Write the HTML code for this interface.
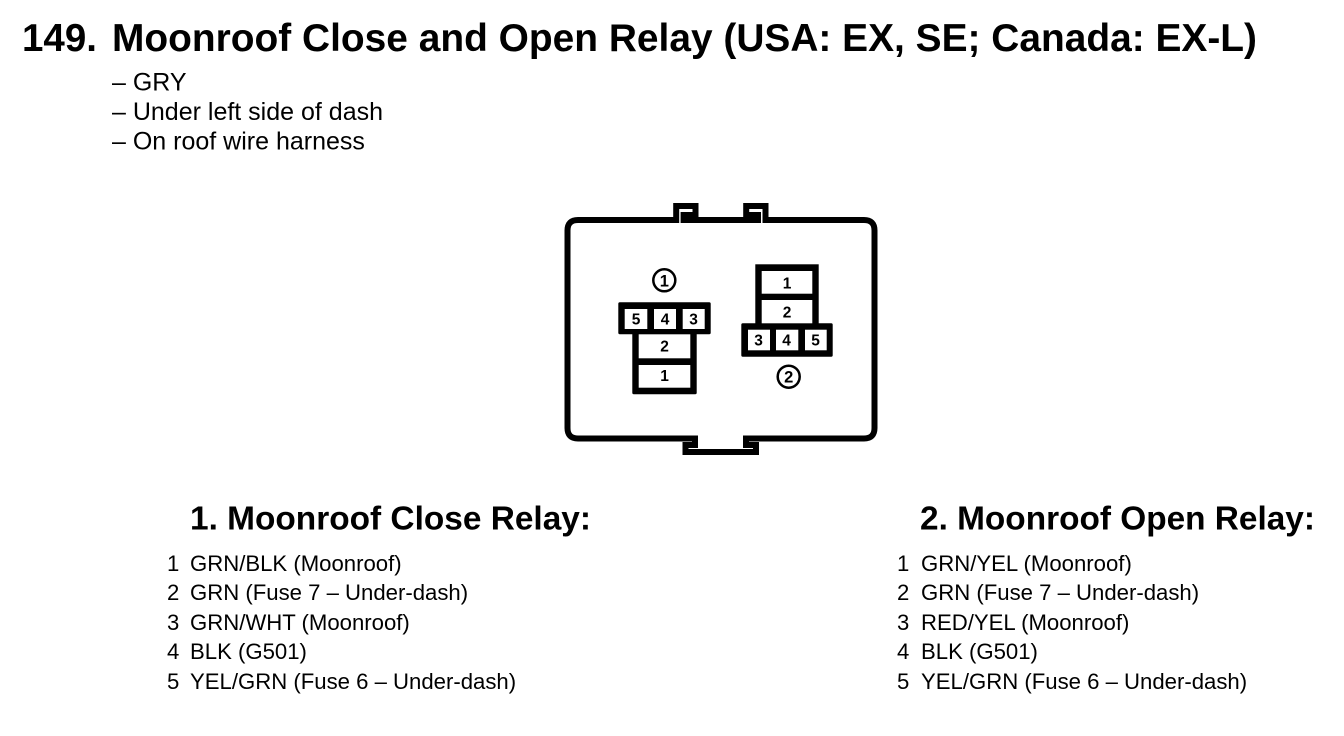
<!DOCTYPE html>
<html><head><meta charset="utf-8"><style>
html,body{margin:0;padding:0;background:#fff}
svg{display:block}
text{font-family:"Liberation Sans",Arial,sans-serif;fill:#000}
.t{font-weight:bold;font-size:38.500px}
.h{font-weight:bold;font-size:33.400px}
.l{font-size:25px}
.b{font-size:22.150px}
.n{font-weight:bold;font-size:15.500px;text-anchor:middle}
</style></head><body>
<svg width="1344" height="736" viewBox="0 0 1344 736" xmlns="http://www.w3.org/2000/svg">
<rect width="1344" height="736" fill="#fff"/>
<text class="t" x="22" y="51">149.</text>
<text class="t" x="112" y="51" textLength="1145" lengthAdjust="spacingAndGlyphs">Moonroof Close and Open Relay (USA: EX, SE; Canada: EX-L)</text>
<text class="l" x="112" y="90.500">– GRY</text>
<text class="l" x="112" y="120">– Under left side of dash</text>
<text class="l" x="112" y="149.500">– On roof wire harness</text>

<path d="M676.200 220V206H695.500V215H683.600V220H758V215H746.200V206H765.500V220H864Q874.500 220 874.500 230.500V428Q874.500 438.500 864 438.500H746V445H756V452H685.500V445H695V438.500H578Q567.500 438.500 567.500 428V230.500Q567.500 220 578 220Z" fill="none" stroke="#000" stroke-width="6" stroke-linejoin="miter"/>

<circle cx="664.300" cy="280.300" r="11" fill="none" stroke="#000" stroke-width="2.500"/>
<text class="n" x="664.300" y="286.300" style="font-size:16.500px">1</text>
<rect x="618.300" y="302.300" width="92.400" height="32" rx="1.500" fill="#000"/>
<rect x="632.300" y="330" width="64.400" height="64.300" rx="1.500" fill="#000"/>
<rect x="624.700" y="309" width="22.600" height="20" fill="#fff"/>
<rect x="654" y="309" width="22" height="20" fill="#fff"/>
<rect x="682.700" y="309" width="22" height="20" fill="#fff"/>
<rect x="638.700" y="334.300" width="51.600" height="24" fill="#fff"/>
<rect x="638.700" y="365" width="51.600" height="22.700" fill="#fff"/>
<text class="n" x="636" y="324.500">5</text>
<text class="n" x="665" y="324.500">4</text>
<text class="n" x="693.500" y="324.500">3</text>
<text class="n" x="664.500" y="351.500">2</text>
<text class="n" x="664.500" y="381">1</text>

<rect x="755.300" y="264.300" width="63.400" height="62" fill="#000"/>
<rect x="741.300" y="323.300" width="91.400" height="33.400" rx="1.500" fill="#000"/>
<rect x="761.700" y="271" width="50.600" height="22.700" fill="#fff"/>
<rect x="761.700" y="300" width="50.600" height="23.300" fill="#fff"/>
<rect x="748" y="329.700" width="22" height="20.600" fill="#fff"/>
<rect x="776" y="329.700" width="22.300" height="20.600" fill="#fff"/>
<rect x="805" y="329.700" width="21.700" height="20.600" fill="#fff"/>
<text class="n" x="787" y="288.500">1</text>
<text class="n" x="787" y="317.500">2</text>
<text class="n" x="758.500" y="345.500">3</text>
<text class="n" x="786.500" y="345.500">4</text>
<text class="n" x="815.500" y="345.500">5</text>
<circle cx="788.700" cy="376.700" r="11" fill="none" stroke="#000" stroke-width="2.500"/>
<text class="n" x="788.700" y="382.700" style="font-size:16.500px">2</text>

<text class="h" x="190" y="529.500" textLength="401" lengthAdjust="spacingAndGlyphs">1. Moonroof Close Relay:</text>
<text class="b" x="167" y="571">1</text><text class="b" x="190" y="571">GRN/BLK (Moonroof)</text>
<text class="b" x="167" y="600">2</text><text class="b" x="190" y="600">GRN (Fuse 7 – Under-dash)</text>
<text class="b" x="167" y="630">3</text><text class="b" x="190" y="630">GRN/WHT (Moonroof)</text>
<text class="b" x="167" y="659">4</text><text class="b" x="190" y="659">BLK (G501)</text>
<text class="b" x="167" y="689">5</text><text class="b" x="190" y="689">YEL/GRN (Fuse 6 – Under-dash)</text>

<text class="h" x="920" y="529.500" textLength="395" lengthAdjust="spacingAndGlyphs">2. Moonroof Open Relay:</text>
<text class="b" x="897" y="571">1</text><text class="b" x="921" y="571">GRN/YEL (Moonroof)</text>
<text class="b" x="897" y="600">2</text><text class="b" x="921" y="600">GRN (Fuse 7 – Under-dash)</text>
<text class="b" x="897" y="630">3</text><text class="b" x="921" y="630">RED/YEL (Moonroof)</text>
<text class="b" x="897" y="659">4</text><text class="b" x="921" y="659">BLK (G501)</text>
<text class="b" x="897" y="689">5</text><text class="b" x="921" y="689">YEL/GRN (Fuse 6 – Under-dash)</text>
</svg>
</body></html>
